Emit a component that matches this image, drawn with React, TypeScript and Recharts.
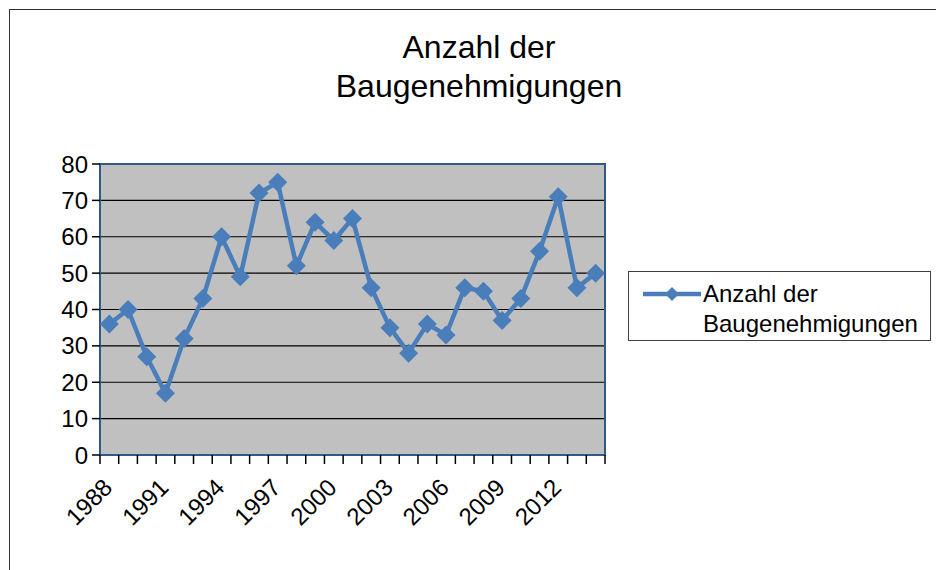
import React from 'react';
import { LineChart, Line, XAxis, YAxis, CartesianGrid, ReferenceArea, Legend } from 'recharts';

const years = ['1988','1989','1990','1991','1992','1993','1994','1995','1996','1997','1998','1999','2000','2001','2002','2003','2004','2005','2006','2007','2008','2009','2010','2011','2012','2013','2014'];
const values = [36, 40, 27, 17, 32, 43, 60, 49, 72, 75, 52, 64, 59, 65, 46, 35, 28, 36, 33, 46, 45, 37, 43, 56, 71, 46, 50];
const yTicks = [0, 10, 20, 30, 40, 50, 60, 70, 80];
const seriesName = 'Anzahl der Baugenehmigungen';
const titleLines = ['Anzahl der', 'Baugenehmigungen'];

const data = years.map((y, i) => ({ year: y, idx: i + 0.5, value: values[i] }));
const boundaryTicks = years.map((_, i) => i).concat([years.length]);

const LINE = '#4A7EBB';
const BORDER = '#2E5A8C';
const FONT = '"Liberation Sans", Arial, sans-serif';

const Diamond = (props: any) => {
  const { cx, cy } = props;
  if (cx == null || cy == null) return null;
  const r = 9.5;
  return <polygon points={`${cx},${cy - r} ${cx + r},${cy} ${cx},${cy + r} ${cx - r},${cy}`} fill={LINE} stroke="none" />;
};

const EmptyTick = () => <g />;

const XTick = (props: any) => {
  const { x, y, payload } = props;
  const ax = x - 1.5;
  const ay = y + 17;
  return (
    <text x={ax} y={ay} transform={`rotate(-45 ${ax} ${ay})`} textAnchor="end" fontSize={24} fill="#000" fontFamily={FONT} dy="0.35em">
      {payload.value}
    </text>
  );
};

const LegendBox = () => (
  <div style={{ width: 303, height: 70, border: '1.5px solid #404040', boxSizing: 'border-box', position: 'relative', fontFamily: FONT, fontSize: 24, color: '#000', background: '#fff' }}>
    <svg width={62} height={20} style={{ position: 'absolute', left: 12, top: 12 }}>
      <line x1={2} y1={10} x2={60} y2={10} stroke={LINE} strokeWidth={4.5} />
      <polygon points="31,3 38,10 31,17 24,10" fill={LINE} />
    </svg>
    <div style={{ position: 'absolute', left: 74, top: 7, lineHeight: '30px', whiteSpace: 'nowrap' }}>
      Anzahl der<br />Baugenehmigungen
    </div>
  </div>
);

export default function App() {
  return (
    <div style={{ position: 'absolute', left: 0, top: 0, width: 936, height: 570, overflow: 'hidden', background: '#fff' }}>
      <div style={{ position: 'absolute', left: 9, top: 9, width: 960, height: 600, border: '1.5px solid #303030' }} />
      <div style={{ position: 'absolute', left: 0, top: 28, width: 958, textAlign: 'center', fontFamily: FONT, fontSize: 32, lineHeight: '39px', color: '#000' }}>
        {titleLines.map((t) => (<div key={t}>{t}</div>))}
      </div>
      <div style={{ position: 'absolute', left: 0, top: 0 }}>
        <LineChart width={936} height={570} data={data} margin={{ top: 164, right: 331, bottom: 45, left: 0 }}>
          <CartesianGrid xAxisId="ax1" vertical={false} horizontal stroke="#000" strokeWidth={1.2} fill="#C0C0C0" fillOpacity={1} />
          <XAxis xAxisId="ax0" dataKey="idx" type="number" domain={[0, years.length]} ticks={boundaryTicks} allowDataOverflow tick={<EmptyTick />} tickSize={9} tickLine={{ stroke: '#000', strokeWidth: 1.5 }} axisLine={{ stroke: BORDER, strokeWidth: 2 }} height={9} interval={0} />
          <XAxis xAxisId="ax1" dataKey="year" type="category" padding={{ left: 9.35, right: 9.35 }} interval={2} tickSize={0} tickLine={false} axisLine={false} height={61} tick={<XTick />} />
          <YAxis domain={[0, 80]} ticks={yTicks} interval={0} width={100} tickSize={8} tickMargin={4} axisLine={false} tickLine={{ stroke: '#000', strokeWidth: 1.5 }} tick={{ fontSize: 24, fill: '#000', fontFamily: FONT }} />
          <ReferenceArea xAxisId="ax0" x1={0} x2={years.length} y1={0} y2={80} fill="none" stroke={BORDER} strokeWidth={2} ifOverflow="visible" />
          <Line xAxisId="ax1" type="linear" dataKey="value" name={seriesName} stroke={LINE} strokeWidth={4.5} dot={<Diamond />} activeDot={false} isAnimationActive={false} />
          <Legend layout="vertical" align="center" verticalAlign="middle" wrapperStyle={{ left: 628, top: 271, width: 303, height: 70 }} content={<LegendBox />} />
        </LineChart>
      </div>
    </div>
  );
}
